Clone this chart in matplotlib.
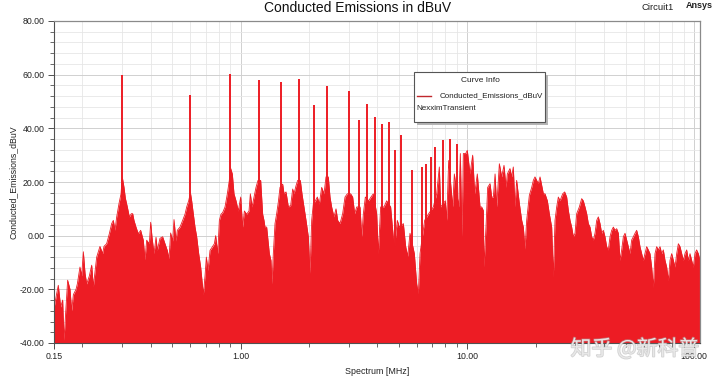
import matplotlib
matplotlib.use("Agg")
import matplotlib.pyplot as plt
from matplotlib.patches import Rectangle
from matplotlib.lines import Line2D
import matplotlib.patheffects as pe
import numpy as np

# ---------------- data ----------------
env_freq_mhz = [
    0.150, 0.1541, 0.1567, 0.1605, 0.1638, 0.166, 0.1694, 0.1723, 0.1765, 0.1795,
    0.1826, 0.1876, 0.1901, 0.1953, 0.1987, 0.2021, 0.2056, 0.2091, 0.2148, 0.2200,
    0.2237, 0.2314, 0.2393, 0.2459, 0.2492, 0.2561, 0.2631, 0.2695, 0.2741, 0.2788,
    0.2836, 0.2904, 0.2964, 0.3000, 0.3055, 0.3097, 0.3160, 0.3225, 0.3291, 0.3337,
    0.3381, 0.3451, 0.3533, 0.3618, 0.3717, 0.3781, 0.3846, 0.3952, 0.4006, 0.4061,
    0.4145, 0.4230, 0.4285, 0.4403, 0.4524, 0.4632, 0.4743, 0.4825, 0.4907, 0.5009,
    0.5078, 0.5182, 0.5252, 0.5396, 0.5545, 0.5678, 0.5776, 0.5894, 0.600, 0.6076,
    0.6180, 0.6286, 0.6394, 0.6526, 0.6658, 0.6772, 0.6841, 0.6959, 0.7053, 0.7174,
    0.7321, 0.7523, 0.7651, 0.7755, 0.7916, 0.8051, 0.8186, 0.8326, 0.8526, 0.8730,
    0.8908, 0.899, 0.9185, 0.9342, 0.9535, 0.976, 1.000, 1.020, 1.038, 1.062,
    1.088, 1.103, 1.122, 1.145, 1.168, 1.192, 1.225, 1.250, 1.267, 1.280,
    1.302, 1.338, 1.360, 1.374, 1.393, 1.417, 1.441, 1.466, 1.491, 1.532,
    1.553, 1.585, 1.623, 1.662, 1.696, 1.719, 1.754, 1.784, 1.833, 1.864,
    1.902, 1.942, 1.988, 2.022, 2.057, 2.092, 2.135, 2.179, 2.223, 2.277,
    2.332, 2.379, 2.436, 2.478, 2.520, 2.580, 2.634, 2.679, 2.743, 2.818,
    2.886, 2.955, 3.057, 3.120, 3.184, 3.250, 3.362, 3.420, 3.478, 3.548,
    3.670, 3.758, 3.848, 3.981, 4.049, 4.146, 4.290, 4.408, 4.589, 4.685,
    4.764, 4.911, 5.013, 5.222, 5.346, 5.456, 5.587, 5.839, 5.979, 6.081,
    6.185, 6.485, 6.754, 7.081, 7.325, 7.526, 7.629, 8.000, 8.110, 8.276,
    8.619, 8.766, 9.159, 9.318, 9.476, 9.605, 9.836, 10.0, 10.28, 10.56,
    10.78, 11.07, 11.38, 11.57, 11.77, 11.85, 12.09, 12.30, 12.60, 12.81,
    13.03, 13.26, 13.48, 13.85, 14.18, 14.52, 14.82, 15.02, 15.43, 15.70,
    15.96, 16.23, 16.51, 16.97, 17.38, 17.67, 17.97, 18.28, 18.78, 19.24,
    19.56, 19.89, 20.24, 20.58, 20.94, 21.29, 21.66, 22.03, 22.56, 23.01,
    23.57, 23.97, 24.38, 24.80, 25.22, 25.65, 26.36, 26.90, 27.45, 27.92,
    28.40, 28.88, 29.37, 29.88, 30.39, 31.22, 31.97, 32.51, 33.07, 33.64,
    34.21, 34.80, 35.39, 36.00, 36.61, 37.24, 37.87, 38.52, 39.17, 39.84,
    40.52, 41.21, 41.92, 42.64, 43.37, 44.11, 44.85, 45.62, 46.40, 47.20,
    48.00, 48.83, 49.66, 50.51, 51.36, 52.24, 53.14, 54.04, 54.96, 55.90,
    56.86, 57.82, 58.81, 59.82, 60.84, 61.88, 62.93, 64.01, 65.10, 66.22,
    67.35, 68.50, 69.67, 70.86, 72.07, 73.30, 74.56, 75.83, 77.13, 78.45,
    79.79, 81.16, 82.55, 83.95, 85.39, 86.85, 88.33, 89.84, 91.37, 92.93,
    94.52, 96.12, 97.75, 99.42, 101.1, 102.8, 104.6, 106.4,
]
env_level_dbuv = [
    -27, -21.6, -18.5, -26.6, -24, -39, -26.6, -16.6, -20, -28,
    -22, -20, -18, -11.7, -15, -6, -14, -18, -15, -11,
    -19, -8, -4, -6.7, -4, -3, 0.7, 4.5, 5.7, 2,
    7, 12, 15.6, 22, 18, 14, 10.7, 7, 8.2, 8.2,
    5.7, 3.2, 0.7, 2, -1.7, -9, -1.7, -3, 5, -0.6,
    -6.7, -0.6, -5.5, -1, -0.4, -3, -5.5, -8.6, 1, -2,
    6, -2, 2, 3.2, 5.7, 8, 10.7, 13, 16, 13,
    8, 3.2, -0.4, -6.7, -11.7, -18, -22, -15, -8, -13,
    -5.5, -4, -3, 0, -6.7, 5.7, 8, 8.6, 10.7, 15.6,
    20.6, 25.6, 23, 15.6, 13, 9.2, 14.4, 3.2, 9.2, 8,
    9.2, 15.6, 10.7, 14.4, 18, 20.6, 20.6, 8, 5.7, 3.2,
    3.2, -6.7, -9.2, -18, -6.7, 4.5, 8.2, 12.6, 18, 19.2,
    15.6, 16.3, 10.7, 11.3, 17.4, 15.6, 18.6, 20.6, 20.6, 15.6,
    10.7, 5.7, -0.4, -14, 5.7, 11.8, 13, 14.4, 11.8, 18,
    15.6, 21.9, 21.9, 14.4, 10.7, 7, 10, 5.7, 4.5, 8.2,
    14.4, 15.6, 15.6, 14.4, 8.2, 10.7, 10.7, -0.4, 8.2, 14.4,
    13, 14.4, 15.6, 8.2, -6.7, 10.7, 10.7, 13, 10.7, 2,
    -5, 5.7, 3.2, 4.5, -4, -7.7, 0.9, -6.7, -18, -21.6,
    -6.7, 5.7, 8.2, 10.7, 15.6, 25.6, 10.7, 13, 5.7, 28,
    10.7, 23, 10.7, 30.6, -0.4, 30.6, 30.6, 31.8, 23, 30,
    15.6, 23, 10.7, 10.7, 9.4, -11.7, 3.2, 18, 19.4, 14.4,
    14.4, 23, 10.7, 26.8, 21.9, 26.2, 18, 23, 25, 21.9,
    25.6, 10.7, 20.6, 12, 5.7, 3.2, -5, 5.7, 15, 18,
    20.6, 21.9, 20.6, 19.4, 21.9, 18.8, 15.6, 15.6, 13, 8.2,
    3.2, -15.4, 5.7, 10.7, 14.4, 13, 15.6, 16.3, 14.4, 9.4,
    5.7, 3.2, -0.4, 0.9, 8.2, 10.7, 13.8, 13, 10.7, 8.2,
    4.5, 3.2, -0.4, -1.6, 0.9, 5.7, 7, 4.5, 0.9, 2,
    -0.4, -4.1, -5.3, -0.4, 2, 3.2, 2, 2.6, 0.9, -9.2,
    -5.3, -0.4, 0.9, -1.6, -4.1, -6.7, -1.6, -0.4, 0.9, 2,
    -0.4, -4.1, -6.7, -9.2, -6.7, -4.1, -5.3, -6.7, -11.7, -19.2,
    -6.7, -4.1, -5.3, -4.1, -6.7, -5.3, -9.2, -11.7, -16.7, -9.2,
    -6.7, -9.2, -11.7, -6.7, -3, -4.1, -6.7, -9.2, -6.7, -5.3,
    -9.2, -6.7, -9.2, -11.7, -6.7, -5.3, -6.7, -9.2,
]

peak_freq_mhz = [0.30, 0.60, 0.90, 1.20, 1.50, 1.80, 2.10, 2.40, 3.00, 3.32,
                 3.60, 3.90, 4.20, 4.50, 4.80, 5.10, 5.70, 6.30, 6.60, 6.90,
                 7.20, 7.80, 8.40, 9.00]
peak_level_dbuv = [60.0, 52.3, 60.4, 57.9, 57.3, 58.5, 48.6, 55.8, 54.0, 43.0,
                   49.2, 44.2, 41.7, 42.3, 31.8, 37.4, 24.4, 25.6, 26.8, 29.3,
                   33.0, 35.7, 36.1, 34.3]

x_ticks = [0.15, 1.0, 10.0, 100.0]
x_tick_labels = ["0.15", "1.00", "10.00", "100.00"]
y_ticks = [-40, -20, 0, 20, 40, 60, 80]
y_tick_labels = ["-40.00", "-20.00", "0.00", "20.00", "40.00", "60.00", "80.00"]

# ---------------- figure ----------------
W, H = 720, 379
fig = plt.figure(figsize=(7.2, 3.79), dpi=100)
plt.rcParams['font.family'] = ['Liberation Sans', 'DejaVu Sans']

def fx(px):
    return px / W

def fy(py):
    return 1 - py / H

ax = fig.add_axes([fx(54), fy(343), (700 - 54) / W, (343 - 21) / H])
red = '#ED1C24'

ax.set_xscale('log')
ax.set_xlim(0.15, 106.4)
ax.set_ylim(-40, 80)

ax.fill_between(env_freq_mhz, env_level_dbuv, -40, color=red, lw=0, zorder=2)
ax.plot(env_freq_mhz, env_level_dbuv, color=red, lw=0.6, zorder=2)
ax.vlines(peak_freq_mhz, -40, peak_level_dbuv, color=red, lw=1.4, zorder=2)

# ticks
ax.set_xticks(x_ticks)
ax.set_xticklabels(x_tick_labels)
minor_x = [m * d for d in (0.1, 1, 10) for m in range(2, 10) if m * d > 0.15]
ax.set_xticks(minor_x, minor=True)
ax.xaxis.set_minor_formatter(matplotlib.ticker.NullFormatter())
ax.set_yticks(y_ticks)
ax.set_yticklabels(y_tick_labels)
ax.set_yticks(np.arange(-40, 81, 4), minor=True)

ax.tick_params(axis='both', which='major', labelsize=6.3, length=4, width=0.7,
               color='#505050', direction='out', labelcolor='#222222')
ax.tick_params(axis='both', which='minor', length=3, width=0.6, color='#505050',
               direction='out')
ax.tick_params(axis='y', pad=3)
ax.tick_params(axis='x', pad=2.5)

ax.grid(True, which='major', color='#d0d0d0', lw=0.7, zorder=0)
ax.grid(True, which='minor', color='#e6e6e6', lw=0.6, zorder=0)
ax.set_axisbelow(True)

for side in ('top', 'right'):
    ax.spines[side].set_color('#8a8a8a')
    ax.spines[side].set_linewidth(0.9)
for side in ('left', 'bottom'):
    ax.spines[side].set_color('#505050')
    ax.spines[side].set_linewidth(0.8)

ax.set_xlabel('Spectrum [MHz]', fontsize=6.4, labelpad=4, color='#222222')
ax.set_ylabel('Conducted_Emissions_dBuV', fontsize=6.3, labelpad=1.5, color='#222222')

# titles
fig.text(fx(358), fy(8), 'Conducted Emissions in dBuV', fontsize=10,
         ha='center', va='center', color='#111111')
fig.text(fx(658), fy(7), 'Circuit1', fontsize=6.8, ha='center', va='center',
         color='#222222')
fig.text(fx(699), fy(5), 'Ansys', fontsize=6.5, ha='center', va='center',
         color='#222222', fontweight='bold')

# legend box ("Curve Info")
shadow = Rectangle((fx(417), fy(125)), (545 - 414) / W, (122 - 72) / H,
                   transform=fig.transFigure, facecolor='#b5b5b5',
                   edgecolor='none', zorder=5)
box = Rectangle((fx(414), fy(122)), (545 - 414) / W, (122 - 72) / H,
                transform=fig.transFigure, facecolor='white',
                edgecolor='#555555', lw=0.8, zorder=6)
fig.add_artist(shadow)
fig.add_artist(box)
fig.text(fx(480), fy(81), 'Curve Info', fontsize=6, ha='center', va='center',
         zorder=7, color='#222222')
fig.add_artist(Line2D([fx(417), fx(431)], [fy(96), fy(96)], color='#c0282d',
                      lw=1.0, transform=fig.transFigure, zorder=7))
fig.text(fx(440), fy(96), 'Conducted_Emissions_dBuV', fontsize=5.8, ha='left',
         va='center', zorder=7, color='#222222')
fig.text(fx(416), fy(108), 'NexximTransient', fontsize=5.8, ha='left',
         va='center', zorder=7, color='#222222')

# watermark
wm = fig.text(fx(635), fy(349), '知乎 @新科普', fontsize=15, ha='center', va='center',
              color='#ececec', alpha=0.9, zorder=10,
              family=['Noto Sans CJK SC', 'DejaVu Sans'])
wm.set_path_effects([pe.withStroke(linewidth=1.2, foreground='#a8a8a8', alpha=0.5)])

fig.savefig('out.png', dpi=100)
